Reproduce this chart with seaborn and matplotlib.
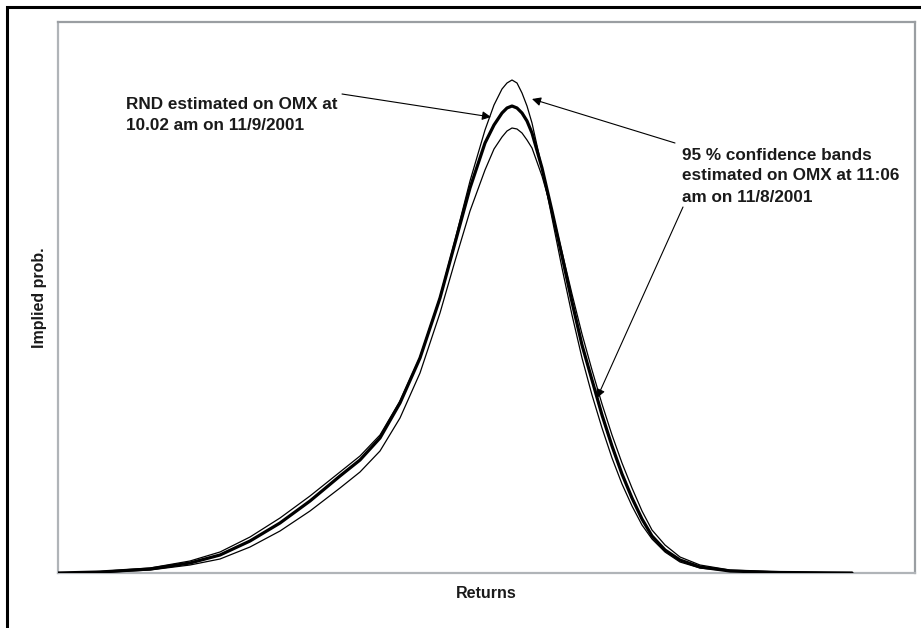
import matplotlib
matplotlib.use("Agg")
import matplotlib.pyplot as plt
import matplotlib.patches as mpatches
import seaborn as sns
import pandas as pd

# ---- data ----
returns = [-22.7, -20.6, -18.1, -16.1, -14.6, -13.1, -11.6, -10.1, -8.6, -7.6,
           -6.6, -5.6, -4.6, -3.6, -2.85, -2.1, -1.35, -0.9, -0.5, -0.25,
           0.0, 0.25, 0.5, 0.75, 1.0, 1.5, 2.0, 2.5, 3.0, 3.5,
           4.0, 4.5, 5.0, 5.5, 6.0, 6.5, 7.0, 7.65, 8.4, 9.4,
           10.9, 13.4, 17.0]

rnd_main = [0.00, 0.01, 0.04, 0.10, 0.18, 0.32, 0.50, 0.72, 0.97, 1.13,
            1.35, 1.70, 2.15, 2.75, 3.30, 3.85, 4.30, 4.48, 4.60, 4.65,
            4.67, 4.65, 4.60, 4.52, 4.40, 4.05, 3.62, 3.17, 2.71, 2.28,
            1.93, 1.58, 1.27, 0.99, 0.75, 0.54, 0.37, 0.23, 0.13, 0.06,
            0.02, 0.005, 0.0]

band_upper = [0.00, 0.015, 0.05, 0.12, 0.21, 0.36, 0.55, 0.77, 1.01, 1.17,
              1.38, 1.72, 2.16, 2.76, 3.33, 3.92, 4.43, 4.68, 4.84, 4.90,
              4.93, 4.90, 4.80, 4.67, 4.50, 4.05, 3.55, 3.05, 2.58, 2.15,
              1.78, 1.45, 1.15, 0.89, 0.67, 0.48, 0.34, 0.21, 0.11, 0.05,
              0.02, 0.005, 0.0]

band_lower = [0.00, 0.005, 0.03, 0.08, 0.14, 0.26, 0.42, 0.62, 0.85, 1.01,
              1.22, 1.55, 2.00, 2.60, 3.12, 3.62, 4.03, 4.24, 4.36, 4.42,
              4.45, 4.44, 4.40, 4.33, 4.25, 3.97, 3.62, 3.21, 2.79, 2.39,
              2.03, 1.69, 1.38, 1.10, 0.85, 0.62, 0.43, 0.28, 0.16, 0.08,
              0.03, 0.01, 0.0]

df = pd.DataFrame({"Returns": returns, "main": rnd_main,
                   "upper": band_upper, "lower": band_lower})

sns.set_theme(style="white")
plt.rcParams["font.family"] = ["Liberation Sans", "DejaVu Sans"]

fig = plt.figure(figsize=(9.21, 6.28), dpi=100)
ax = fig.add_axes([58 / 921, 1 - 573 / 628, (915 - 58) / 921, (573 - 22) / 628])

for col, lw in [("upper", 0.9), ("lower", 0.9), ("main", 2.3)]:
    sns.lineplot(data=df, x="Returns", y=col, ax=ax, color="black",
                 linewidth=lw, zorder=3, estimator=None, sort=False)

ax.set_xlim(-22.7, 20.15)
ax.set_ylim(0, 5.51)
ax.set_xticks([])
ax.set_yticks([])
for s in ax.spines.values():
    s.set_color("#b0b4b8")
    s.set_linewidth(1.6)
ax.spines["top"].set_color("#9a9ea2")
ax.spines["right"].set_color("#9a9ea2")

ax.set_xlabel("Returns", fontsize=11.5, fontweight="bold", color="#1a1a1a", labelpad=9)
ax.set_ylabel("Implied prob.", fontsize=11.5, fontweight="bold", color="#1a1a1a", labelpad=8)

# outer frame
fig.patches.append(mpatches.Rectangle((7 / 921, -0.05), 1.2, 1 - 7 / 628 + 0.05,
                                      transform=fig.transFigure, fill=False,
                                      edgecolor="black", linewidth=2.2, zorder=0))

tkw = dict(fontsize=12.3, fontweight="bold", color="#1a1a1a",
           linespacing=1.5, va="center", ha="left")
arrow = dict(arrowstyle="-|>", color="black", lw=0.8, mutation_scale=13,
             shrinkA=0, shrinkB=0)

def px(xp, yp):
    # pixel -> data
    xd = -22.7 + (xp - 58) / (915 - 58) * (20.15 + 22.7)
    yd = (573 - yp) / (573 - 22) * 5.51
    return xd, yd

ax.text(*px(126, 115), "RND estimated on OMX at\n10.02 am on 11/9/2001", **tkw)
ax.annotate("", xy=px(491, 117), xytext=px(342, 94), arrowprops=arrow)

ax.text(*px(682, 176), "95 % confidence bands\nestimated on OMX at 11:06\nam on 11/8/2001", **tkw)
ax.annotate("", xy=px(532, 99), xytext=px(675, 143), arrowprops=arrow)
ax.annotate("", xy=px(597, 398), xytext=px(683, 207), arrowprops=arrow)

fig.savefig("out.png", dpi=100)
